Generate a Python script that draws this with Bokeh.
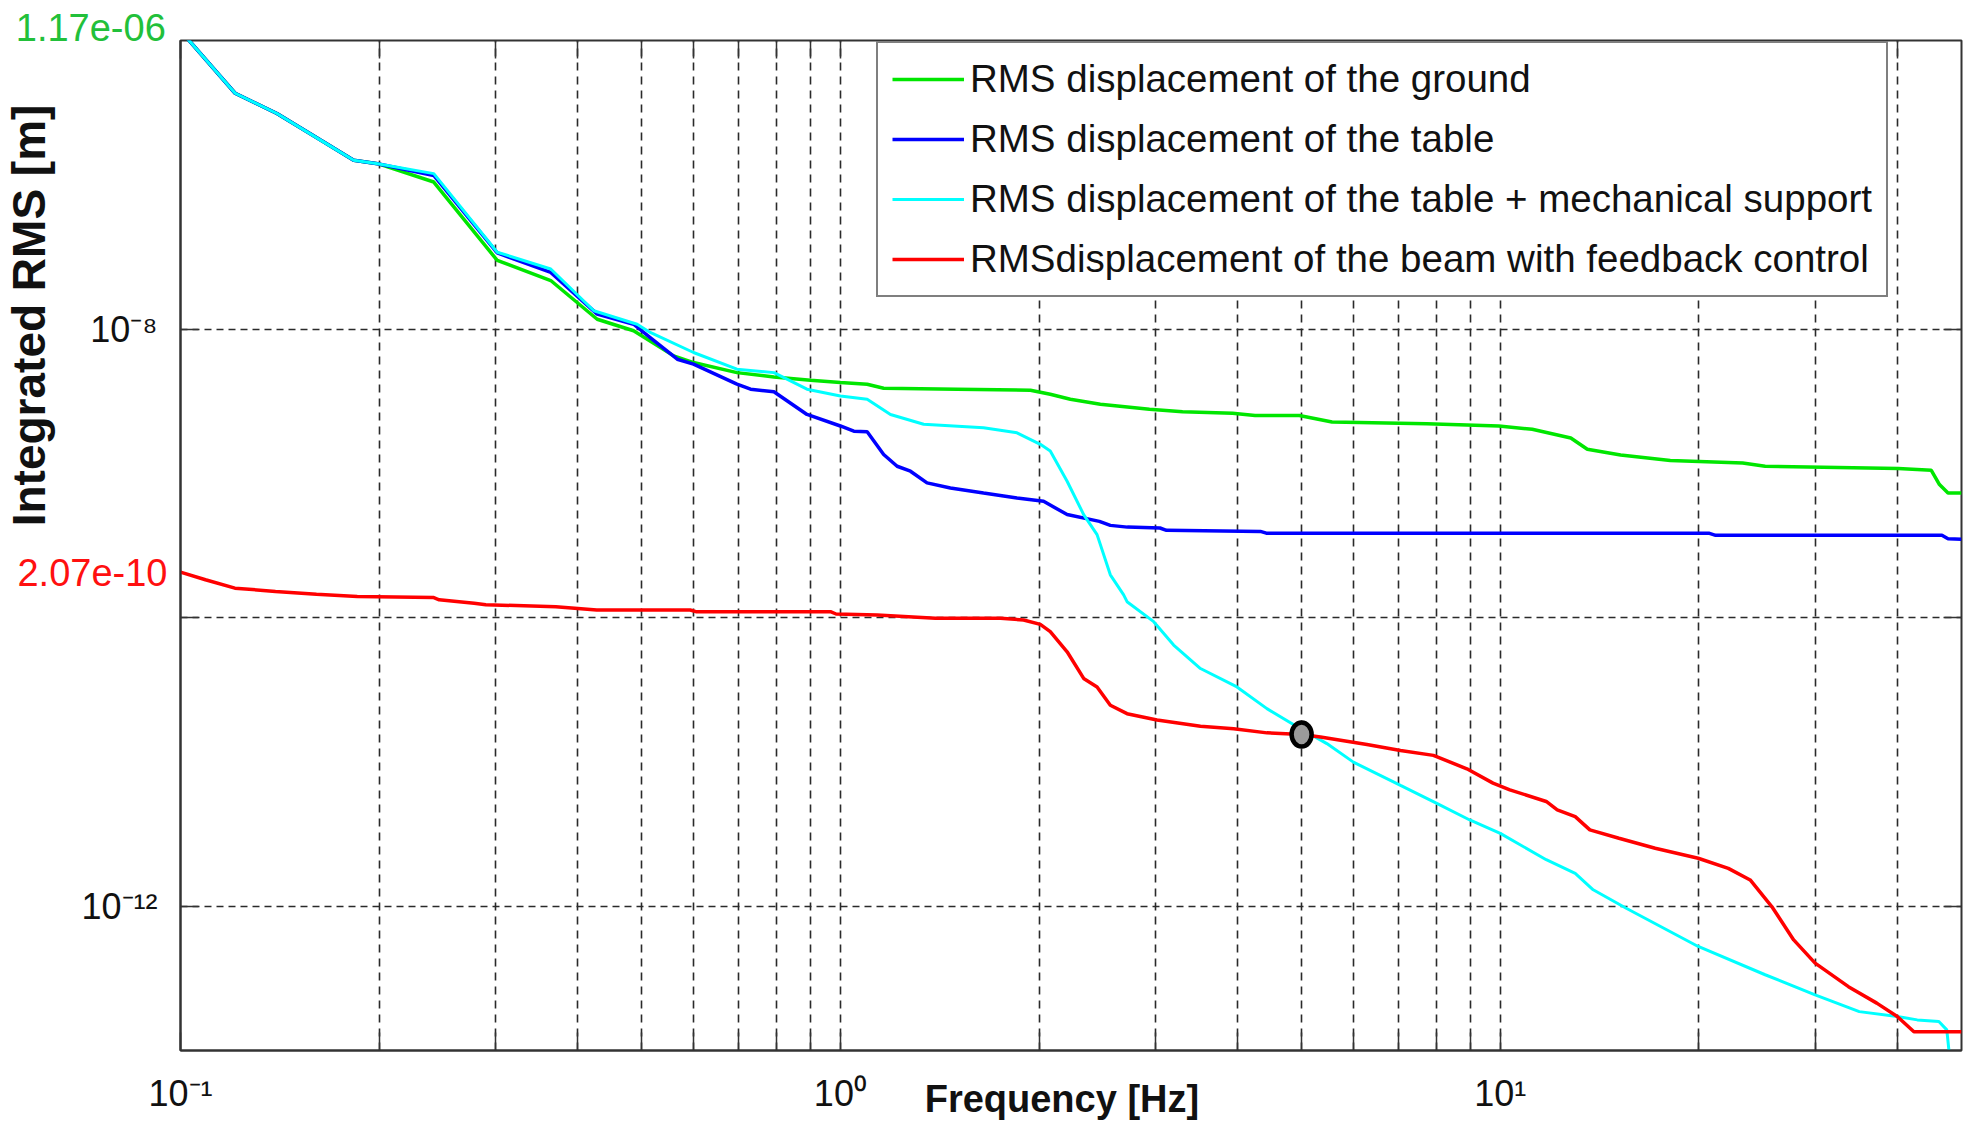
from bokeh.plotting import figure
from bokeh.models import Range1d, FixedTicker, CustomJSTickFormatter, LogAxis
from bokeh.embed import file_html
from bokeh.resources import INLINE

# ---- integrated RMS displacement spectra (frequency in Hz, RMS in m) ----
ground_f = [0.1, 0.121, 0.140, 0.163, 0.183, 0.199, 0.242, 0.302, 0.364, 0.428, 0.486,
            0.559, 0.599, 0.697, 0.793, 0.901, 1.0, 1.098, 1.163, 1.503, 1.941,
            2.080, 2.231, 2.477, 2.94, 3.30, 3.93, 4.25, 4.96, 5.56, 7.74,
            9.95, 11.18, 12.79, 13.55, 15.22, 18.1, 23.3, 25.2, 40.1, 45.0,
            46.3, 47.7, 50.0]
ground_rms = [1.17e-6, 4.31e-7, 3.12e-7, 2.04e-7, 1.48e-7, 1.40e-7, 1.045e-7, 2.99e-8, 2.17e-8, 1.17e-8, 9.73e-9,
              6.52e-9, 5.86e-9, 4.99e-9, 4.66e-9, 4.42e-9, 4.26e-9, 4.15e-9, 3.89e-9, 3.83e-9, 3.77e-9,
              3.53e-9, 3.26e-9, 3.01e-9, 2.78e-9, 2.67e-9, 2.61e-9, 2.52e-9, 2.52e-9, 2.27e-9, 2.21e-9,
              2.13e-9, 2.02e-9, 1.76e-9, 1.47e-9, 1.34e-9, 1.23e-9, 1.18e-9, 1.12e-9, 1.08e-9, 1.05e-9,
              8.36e-10, 7.31e-10, 7.31e-10]

table_f = [0.1, 0.121, 0.140, 0.163, 0.183, 0.199, 0.242, 0.302, 0.364, 0.428, 0.486,
           0.515, 0.566, 0.599, 0.697, 0.731, 0.793, 0.890, 1.0, 1.048, 1.098,
           1.163, 1.219, 1.277, 1.353, 1.468, 1.648, 1.852, 2.032, 2.206, 2.469,
           2.565, 2.722, 3.05, 3.12, 4.33, 4.42, 20.7, 21.2, 46.7, 47.7, 50.0]
table_rms = [1.17e-6, 4.31e-7, 3.12e-7, 2.04e-7, 1.48e-7, 1.40e-7, 1.16e-7, 3.37e-8, 2.47e-8, 1.27e-8, 1.08e-8,
             8.74e-9, 6.18e-9, 5.71e-9, 4.15e-9, 3.83e-9, 3.68e-9, 2.56e-9, 2.13e-9, 1.96e-9, 1.94e-9,
             1.35e-9, 1.12e-9, 1.035e-9, 8.59e-10, 7.92e-10, 7.31e-10, 6.75e-10, 6.40e-10, 5.18e-10, 4.65e-10,
             4.36e-10, 4.24e-10, 4.18e-10, 4.03e-10, 3.96e-10, 3.85e-10, 3.85e-10, 3.72e-10, 3.72e-10, 3.52e-10,
             3.50e-10]

support_f = [0.1, 0.121, 0.140, 0.163, 0.183, 0.199, 0.242, 0.302, 0.364, 0.423, 0.492,
             0.515, 0.599, 0.697, 0.793, 0.890, 1.0, 1.098, 1.191, 1.337, 1.648,
             1.852, 2.009, 2.080, 2.206, 2.337, 2.449, 2.565, 2.687, 2.719, 2.984,
             3.199, 3.513, 3.990, 4.43, 4.98, 5.46, 5.99, 7.06, 8.0, 8.99,
             10.0, 11.74, 12.99, 13.83, 15.52, 19.95, 25.2, 30.0, 35.0, 39.96,
             42.85, 46.2, 47.5, 48.1]
support_rms = [1.17e-6, 4.31e-7, 3.12e-7, 2.04e-7, 1.48e-7, 1.40e-7, 1.195e-7, 3.41e-8, 2.61e-8, 1.34e-8, 1.08e-8,
               9.47e-9, 6.88e-9, 5.27e-9, 4.99e-9, 3.83e-9, 3.44e-9, 3.26e-9, 2.56e-9, 2.19e-9, 2.07e-9,
               1.91e-9, 1.59e-9, 1.43e-9, 8.82e-10, 5.18e-10, 3.76e-10, 1.98e-10, 1.44e-10, 1.29e-10, 9.38e-11,
               6.46e-11, 4.44e-11, 3.31e-11, 2.34e-11, 1.70e-11, 1.34e-11, 9.97e-12, 6.87e-12, 5.18e-12, 3.96e-12,
               3.20e-12, 2.10e-12, 1.69e-12, 1.30e-12, 9.68e-13, 5.26e-13, 3.35e-13, 2.43e-13, 1.86e-13, 1.72e-13,
               1.63e-13, 1.59e-13, 1.39e-13, 8.0e-14]

beam_f = [0.1, 0.1091, 0.1209, 0.1393, 0.1607, 0.1853, 0.2415, 0.2466, 0.2786, 0.2902,
          0.3705, 0.4274, 0.592, 0.604, 0.966, 0.985, 1.137, 1.393, 1.748, 1.895,
          2.009, 2.080, 2.206, 2.337, 2.449, 2.565, 2.719, 3.019, 3.513, 3.944,
          4.43, 5.0, 5.34, 6.28, 7.06, 7.92, 8.90, 9.75, 10.34, 11.74,
          12.2, 12.99, 13.67, 15.13, 17.17, 19.95, 22.16, 23.92, 25.79, 27.84,
          30.0, 33.7, 37.2, 39.96, 42.35, 50.0]
beam_rms = [2.07e-10, 1.83e-10, 1.60e-10, 1.52e-10, 1.45e-10, 1.40e-10, 1.38e-10, 1.33e-10, 1.26e-10, 1.23e-10,
            1.19e-10, 1.13e-10, 1.13e-10, 1.10e-10, 1.10e-10, 1.06e-10, 1.045e-10, 9.89e-11, 9.89e-11, 9.64e-11,
            8.98e-11, 8.0e-11, 5.80e-11, 3.79e-11, 3.31e-11, 2.47e-11, 2.16e-11, 1.95e-11, 1.77e-11, 1.70e-11,
            1.59e-11, 1.55e-11, 1.49e-11, 1.32e-11, 1.20e-11, 1.11e-11, 8.96e-12, 7.13e-12, 6.41e-12, 5.32e-12,
            4.66e-12, 4.18e-12, 3.38e-12, 2.96e-12, 2.52e-12, 2.15e-12, 1.83e-12, 1.52e-12, 9.95e-13, 5.84e-13,
            4.03e-13, 2.77e-13, 2.13e-13, 1.72e-13, 1.35e-13, 1.35e-13]

# crossing point of the beam and table+support curves
marker_f = [5.0]
marker_rms = [1.55e-11]

# ---- axes ----
x_major = [0.1, 1.0, 10.0]
x_labels = ["10\u207b\u00b9", "10\u2070", "10\u00b9"]
x_minor = [0.2, 0.3, 0.4, 0.5, 0.6, 0.7, 0.8, 0.9,
           2, 3, 4, 5, 6, 7, 8, 9, 20, 30, 40]
y_major = [1e-12, 1e-10, 1e-8]
y_labels = ["10\u207b\u00b9\u00b2", "", "10\u207b\u2078"]

x_title = "Frequency [Hz]"
y_title = "Integrated RMS [m]"
series_labels = ["RMS displacement of the ground",
                 "RMS displacement of the table",
                 "RMS displacement of the table + mechanical support",
                 "RMSdisplacement of the beam with feedback control"]

FONT = "Liberation Sans"
GREEN, BLUE, CYAN, RED = "#00e600", "#0000ff", "#00ffff", "#ff0000"
GREEN_TXT, RED_TXT = "#22c03a", "#ff1010"
GRID = "#2a2a2a"
NBSP = "\u00a0"
THIN = "\u2009"

p = figure(width=1971, height=1124, x_axis_type="log", y_axis_type="log",
           x_range=Range1d(0.1, 50), y_range=Range1d(1e-13, 1e-6),
           output_backend="svg", toolbar_location=None,
           min_border_left=180, min_border_right=10, min_border_top=40, min_border_bottom=74)
p.background_fill_color = "white"
p.border_fill_color = "white"
p.outline_line_color = "#333333"
p.outline_line_width = 2

label_code = """
const i = major_vals.findIndex(t => Math.abs(Math.log10(t) - Math.log10(tick)) < 1e-6);
return i >= 0 ? major_texts[i] : " ";
"""


def tick_formatter(vals, texts):
    return CustomJSTickFormatter(args=dict(major_vals=vals, major_texts=texts), code=label_code)


x_ticker = FixedTicker(ticks=x_major, minor_ticks=x_minor)
y_ticker = FixedTicker(ticks=y_major, minor_ticks=[])

TICK_STYLE = dict(major_tick_in=18, major_tick_out=0, minor_tick_in=18, minor_tick_out=0,
                  major_tick_line_color="#333333", major_tick_line_width=1.5,
                  minor_tick_line_color="#333333", minor_tick_line_width=1.5)

# bottom axis: decade labels plus the frequency title on the same row
xa = p.xaxis[0]
xa.ticker = x_ticker
xa.formatter = tick_formatter(x_major, x_labels)
xa.update(**TICK_STYLE)
xa.axis_line_color = "#333333"
xa.axis_line_width = 2
xa.major_label_text_font = FONT
xa.major_label_text_font_size = "36px"
xa.major_label_text_color = "#111111"
xa.major_label_standoff = 22
xa.axis_label = x_title + NBSP + THIN
xa.axis_label_text_font = FONT
xa.axis_label_text_font_style = "bold"
xa.axis_label_text_font_size = "38px"
xa.axis_label_text_color = "#111111"
xa.axis_label_standoff = -39

# left axis: decade labels
ya = p.yaxis[0]
ya.ticker = y_ticker
ya.formatter = tick_formatter(y_major, y_labels)
ya.update(**TICK_STYLE)
ya.minor_tick_line_color = None
ya.axis_line_color = "#333333"
ya.axis_line_width = 2
ya.major_label_text_font = FONT
ya.major_label_text_font_size = "36px"
ya.major_label_text_color = "#111111"
ya.major_label_standoff = 23

# second left axis carrying the starting value of the beam curve and the y title
beam_start = [beam_rms[0]]
beam_axis = LogAxis(ticker=FixedTicker(ticks=beam_start, minor_ticks=[]),
                    formatter=tick_formatter(beam_start, [f"{beam_rms[0]:.2e}"]),
                    axis_line_color=None, major_tick_line_color=None, minor_tick_line_color=None,
                    major_label_text_font=FONT, major_label_text_font_size="38px",
                    major_label_text_color=RED_TXT, major_label_standoff=-95,
                    axis_label=NBSP * 36 + y_title, axis_label_text_font=FONT,
                    axis_label_text_font_style="bold", axis_label_text_font_size="46px",
                    axis_label_text_color="#111111", axis_label_standoff=-41)
p.add_layout(beam_axis, "left")

# top axis: mirrored ticks, plus the starting value of the ground curve at the corner
ground_start_text = f"{ground_rms[0]:.2e}" + NBSP * 17
top_axis = LogAxis(ticker=x_ticker, formatter=tick_formatter([x_major[0]], [ground_start_text]),
                   axis_line_color=None, major_label_text_font=FONT, major_label_text_font_size="38px",
                   major_label_text_color=GREEN_TXT, major_label_standoff=-8, **TICK_STYLE)
p.add_layout(top_axis, "above")

# right axis: mirrored ticks only
right_axis = LogAxis(ticker=y_ticker, major_label_text_font_size="1px", major_label_text_color=None,
                     major_label_standoff=0, axis_line_color=None,
                     major_tick_in=18, major_tick_out=0, minor_tick_line_color=None,
                     major_tick_line_color="#333333", major_tick_line_width=1.5)
p.add_layout(right_axis, "right")

# dashed grid
p.xgrid.ticker = x_ticker
p.ygrid.ticker = y_ticker
p.xgrid.grid_line_color = GRID
p.xgrid.grid_line_width = 1.6
p.xgrid.grid_line_dash = "8 6"
p.xgrid.minor_grid_line_color = GRID
p.xgrid.minor_grid_line_width = 1.6
p.xgrid.minor_grid_line_dash = "8 6"
p.ygrid.grid_line_color = GRID
p.ygrid.grid_line_width = 1.6
p.ygrid.grid_line_dash = "7 5"

# curves
p.line(ground_f, ground_rms, color=GREEN, line_width=3.5, legend_label=series_labels[0])
p.line(table_f, table_rms, color=BLUE, line_width=3.5, legend_label=series_labels[1])
p.line(support_f, support_rms, color=CYAN, line_width=3, legend_label=series_labels[2])
p.line(beam_f, beam_rms, color=RED, line_width=3.5, legend_label=series_labels[3])
p.ellipse(marker_f, marker_rms, width=20, height=24, width_units="screen", height_units="screen",
          fill_color="#9b9b9b", line_color="black", line_width=4.5)

lg = p.legend[0]
lg.location = (696, 753)
lg.label_text_font = FONT
lg.label_text_font_size = "38.5px"
lg.label_text_color = "#111111"
lg.glyph_width = 72
lg.glyph_height = 20
lg.label_standoff = 6
lg.padding = 14
lg.spacing = 16
lg.margin = 0
lg.border_line_color = "black"
lg.border_line_width = 2
lg.background_fill_alpha = 1.0

open("out.html", "w").write(file_html(p, INLINE))
